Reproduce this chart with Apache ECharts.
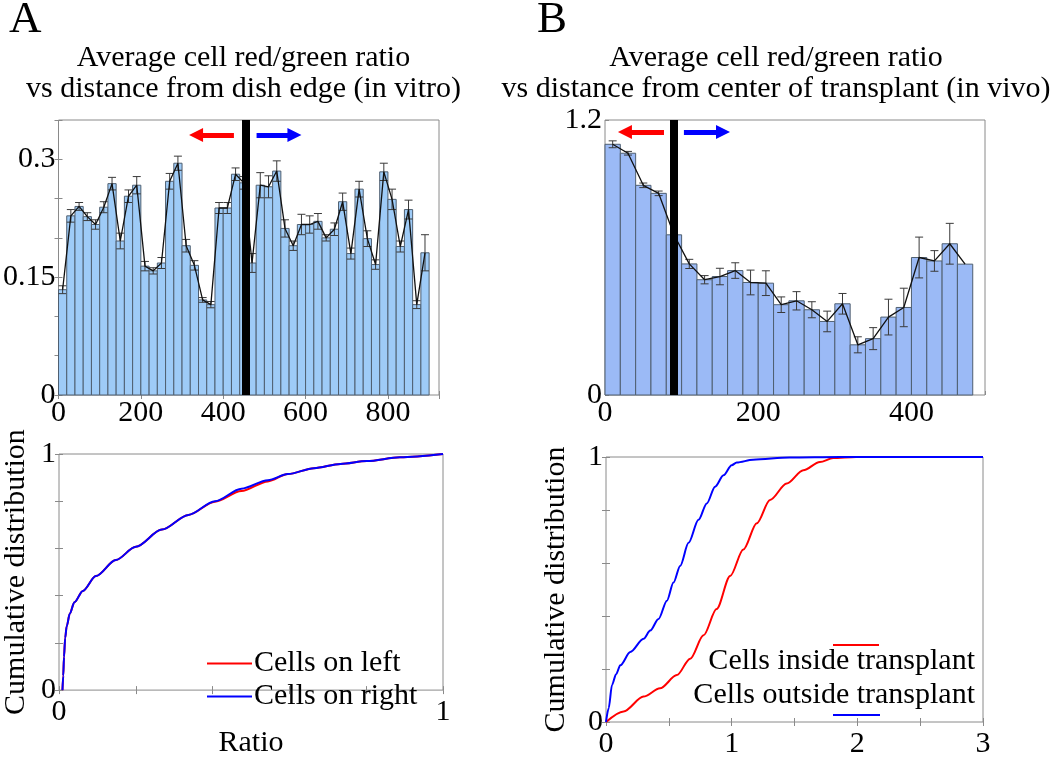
<!DOCTYPE html>
<html><head><meta charset="utf-8">
<script src="https://cdn.jsdelivr.net/npm/echarts@6/dist/echarts.min.js"></script>
<style>html,body{margin:0;padding:0;background:#fff}#c{width:1050px;height:759px}</style>
</head><body><div id="c"></div>
<script>
// ---------- Panel A (top): in vitro, ratio vs distance from dish edge ----------
const aBinCenters = [10,30,50,70,90,110,130,150,170,190,210,230,250,270,290,310,330,350,370,390,410,430,450,470,490,510,530,550,570,590,610,630,650,670,690,710,730,750,770,790,810,830,850,870,890];
const aMeans = [0.134,0.228,0.240,0.227,0.217,0.239,0.269,0.196,0.253,0.267,0.164,0.158,0.168,0.272,0.295,0.190,0.165,0.121,0.115,0.238,0.238,0.281,0.270,0.168,0.267,0.265,0.285,0.212,0.190,0.217,0.217,0.221,0.200,0.211,0.246,0.180,0.262,0.199,0.166,0.284,0.249,0.189,0.236,0.115,0.181];
const aErrors = [0.005,0.008,0.005,0.005,0.006,0.007,0.008,0.010,0.008,0.011,0.006,0.004,0.007,0.010,0.009,0.008,0.006,0.003,0.004,0.007,0.007,0.008,0.008,0.012,0.016,0.014,0.013,0.011,0.006,0.013,0.011,0.010,0.004,0.008,0.011,0.007,0.010,0.010,0.006,0.011,0.013,0.007,0.012,0.005,0.023];
const aBinWidth = 20;
const aBoundary = 455;
const aXMax = 924, aYMax = 0.35;
const aXLabels = [0,200,400,600,800];
const aYLabels = [0,0.15,0.3];

// ---------- Panel B (top): in vivo, ratio vs distance from transplant center ----------
const bBinCenters = [10,30,50,70,90,110,130,150,170,190,210,230,250,270,290,310,330,350,370,390,410,430,450,470];
const bMeans = [1.094,1.055,0.915,0.880,0.699,0.572,0.503,0.517,0.543,0.491,0.488,0.394,0.411,0.372,0.321,0.398,0.219,0.246,0.340,0.382,0.600,0.585,0.660,0.571];
const bErrors = [0.015,0.008,0.010,0.010,0,0.020,0.018,0.036,0.034,0.054,0.054,0.034,0.040,0.035,0.045,0.045,0.035,0.048,0.078,0.084,0.089,0.045,0.089,0];
const bBinWidth = 20;
const bBoundary = 90;
const bXMax = 496, bYMax = 1.2;
const bXLabels = [0,200,400];
const bYLabels = [0,1.2];

// ---------- Panel A (bottom): cumulative distributions ----------
const aLeftX  = [0.009,0.011,0.013,0.016,0.02,0.028,0.04,0.062,0.096,0.148,0.2,0.268,0.337,0.406,0.475,0.544,0.596,0.664,0.733,0.802,0.888,1.0];
const aLeftY  = [0,0.06,0.14,0.22,0.27,0.323,0.372,0.42,0.483,0.551,0.607,0.68,0.742,0.798,0.843,0.884,0.915,0.94,0.958,0.97,0.986,1.0];
const aRightX = [0.009,0.011,0.013,0.016,0.02,0.028,0.04,0.062,0.096,0.148,0.2,0.268,0.337,0.406,0.475,0.544,0.596,0.664,0.733,0.802,0.888,1.0];
const aRightY = [0,0.06,0.14,0.22,0.27,0.323,0.372,0.42,0.483,0.551,0.607,0.68,0.742,0.8,0.853,0.889,0.915,0.94,0.958,0.97,0.986,1.0];

// ---------- Panel B (bottom): cumulative distributions ----------
const bInsideX  = [0,0.14,0.299,0.43,0.564,0.67,0.776,0.88,0.988,1.093,1.2,1.305,1.438,1.57,1.702,1.808,1.99,3.0];
const bInsideY  = [0,0.04,0.096,0.127,0.177,0.239,0.327,0.426,0.551,0.651,0.75,0.838,0.9,0.95,0.981,0.996,1.0,1.0];
const bOutsideX = [0,0.021,0.048,0.08,0.114,0.193,0.299,0.352,0.418,0.485,0.537,0.59,0.657,0.736,0.802,0.868,0.935,1.0,1.04,1.17,1.46,1.86,3.0];
const bOutsideY = [0,0.052,0.14,0.18,0.214,0.264,0.314,0.345,0.389,0.458,0.526,0.589,0.676,0.763,0.825,0.888,0.931,0.969,0.979,0.99,0.998,1.0,1.0];

// ---------- styling ----------
const FONT = '"Liberation Serif", "Times New Roman", Tinos, "DejaVu Serif", serif';
const FS = 30;
const AXIS_GRAY = '#8a8a8a';
const zip = (xs, ys) => xs.map((x, i) => [x, ys[i]]);
const zip3 = (xs, ys, es) => xs.map((x, i) => [x, ys[i], es[i]]);
const only = list => v => list.some(t => Math.abs(t - v) < 1e-6) ? String(+(+v).toFixed(6)) : '';
const font = size => size + 'px ' + FONT;

function histRender(binWidth, fill) {
  return function (params, api) {
    const x = api.value(0), v = api.value(1), e = api.value(2);
    const tl = api.coord([x - binWidth / 2, v]);
    const br = api.coord([x + binWidth / 2, 0]);
    const children = [{
      type: 'rect',
      shape: { x: tl[0], y: tl[1], width: br[0] - tl[0], height: br[1] - tl[1] },
      style: { fill: fill, stroke: '#4f5f70', lineWidth: 1 }
    }];
    if (e > 0) {
      const hi = api.coord([x, v + e]), lo = api.coord([x, v - e]);
      const c = 4;
      const st = { stroke: '#3a3a3a', lineWidth: 1 };
      children.push({ type: 'line', shape: { x1: hi[0], y1: hi[1], x2: lo[0], y2: lo[1] }, style: st });
      children.push({ type: 'line', shape: { x1: hi[0] - c, y1: hi[1], x2: hi[0] + c, y2: hi[1] }, style: st });
      children.push({ type: 'line', shape: { x1: lo[0] - c, y1: lo[1], x2: lo[0] + c, y2: lo[1] }, style: st });
    }
    return { type: 'group', children: children };
  };
}

const labelStyle = { color: '#000', fontFamily: FONT, fontSize: FS };
function mainX(gi, min, max, interval, labels, margin, extra) {
  return Object.assign({
    type: 'value', gridIndex: gi, position: 'bottom', min: min, max: max, interval: interval,
    axisLine: { show: false }, splitLine: { show: false },
    axisTick: { show: true, inside: true, length: 4, lineStyle: { color: AXIS_GRAY } },
    axisLabel: Object.assign({ margin: margin, formatter: only(labels), showMaxLabel: true, hideOverlap: false }, labelStyle)
  }, extra || {});
}
function mainY(gi, min, max, interval, labels, extra) {
  return Object.assign({
    type: 'value', gridIndex: gi, position: 'left', min: min, max: max, interval: interval,
    axisLine: { show: false }, splitLine: { show: false },
    axisTick: { show: true, inside: true, length: 4, lineStyle: { color: AXIS_GRAY } },
    axisLabel: Object.assign({ margin: 3, formatter: only(labels), hideOverlap: false }, labelStyle)
  }, extra || {});
}
function mirror(gi, pos, min, max, interval) {
  return {
    type: 'value', gridIndex: gi, position: pos, min: min, max: max, interval: interval,
    axisLine: { show: false }, splitLine: { show: false },
    axisTick: { show: true, inside: true, length: 4, lineStyle: { color: AXIS_GRAY } },
    axisLabel: { show: false }
  };
}

// annotation arrows (data coordinates)
const arrowA = { y: 0.331, red: [426, 334], blue: [481, 573] };
const arrowB = { y: 1.148, red: [77, 26], blue: [103, 154] };
function markLines(boundary, yMax, arr) {
  return {
    silent: true, animation: false, label: { show: false },
    symbol: 'none',
    data: [
      [{ coord: [boundary, 0], lineStyle: { color: '#000', width: 8, type: 'solid' }, symbol: 'none' },
       { coord: [boundary, yMax], symbol: 'none' }],
      [{ coord: [arr.red[0], arr.y], lineStyle: { color: '#ff0000', width: 5, type: 'solid' }, symbol: 'none' },
       { coord: [arr.red[1], arr.y], symbol: 'triangle', symbolSize: 14 }],
      [{ coord: [arr.blue[0], arr.y], lineStyle: { color: '#0000ff', width: 5, type: 'solid' }, symbol: 'none' },
       { coord: [arr.blue[1], arr.y], symbol: 'triangle', symbolSize: 14 }]
    ]
  };
}

const chart = echarts.init(document.getElementById('c'), null, { renderer: 'canvas' });
const gridBase = { show: true, borderColor: AXIS_GRAY, borderWidth: 1, backgroundColor: 'transparent', containLabel: false };
const txt = (text, x, y, size, align) => ({ type: 'text', silent: true, style: {
  text: text, x: x, y: y, font: font(size), fill: '#000',
  align: align, verticalAlign: 'middle', textAlign: align, textVerticalAlign: 'middle' } });

chart.setOption({
  animation: false,
  backgroundColor: '#fff',
  textStyle: { fontFamily: FONT },
  grid: [
    Object.assign({ left: 56, top: 120, width: 383, height: 275 }, gridBase),
    Object.assign({ left: 605, top: 120, width: 380, height: 275 }, gridBase),
    Object.assign({ left: 56, top: 454, width: 387, height: 270 }, gridBase),
    Object.assign({ left: 606, top: 457, width: 377, height: 267 }, gridBase)
  ],
  xAxis: [
    mainX(0, 0, aXMax, 200, aXLabels, 3),
    mirror(0, 'top', 0, aXMax, 200),
    mainX(1, 0, bXMax, 200, bXLabels, 3),
    mainX(2, 0, 1, 0.2, [0, 1], 7, { name: 'Ratio', nameLocation: 'middle', nameGap: 7, nameTextStyle: labelStyle }),
    mirror(2, 'top', 0, 1, 0.2),
    mainX(3, 0, 3, 0.5, [0, 1, 2, 3], 7),
    mirror(3, 'top', 0, 3, 0.5)
  ],
  yAxis: [
    mainY(0, 0, aYMax, 0.05, aYLabels),
    mirror(0, 'right', 0, aYMax, 0.05),
    mainY(1, 0, bYMax, 0.2, bYLabels),
    mainY(2, 0, 1, 0.2, [0, 1], { name: 'Cumulative distribution', nameLocation: 'middle', nameRotate: 90, nameGap: 28, nameTextStyle: labelStyle }),
    mirror(2, 'right', 0, 1, 0.2),
    mainY(3, 0, 1, 0.2, [0, 1], { name: 'Cumulative distribution', nameLocation: 'middle', nameRotate: 90, nameGap: 35, nameTextStyle: labelStyle }),
    mirror(3, 'right', 0, 1, 0.2)
  ],
  legend: [{
    data: ['Cells on left', 'Cells on right'],
    left: 207, top: 647, orient: 'vertical', padding: 0, itemGap: 0,
    icon: 'rect', itemWidth: 45, itemHeight: 2,
    textStyle: { color: '#000', fontFamily: FONT, fontSize: FS, lineHeight: 33, padding: [0, 0, 0, -3] }
  }],
  series: [
    { type: 'custom', name: 'binsA', xAxisIndex: 0, yAxisIndex: 0, renderItem: histRender(aBinWidth, '#9ecbf7'),
      encode: { x: 0, y: 1 }, data: zip3(aBinCenters, aMeans, aErrors), z: 2 },
    { type: 'line', name: 'meanA', xAxisIndex: 0, yAxisIndex: 0, data: zip(aBinCenters, aMeans),
      symbol: 'none', lineStyle: { color: '#111', width: 1.3 }, z: 3,
      markLine: markLines(aBoundary, aYMax, arrowA) },
    { type: 'custom', name: 'binsB', xAxisIndex: 2, yAxisIndex: 2, renderItem: histRender(bBinWidth, '#9bbaf6'),
      encode: { x: 0, y: 1 }, data: zip3(bBinCenters, bMeans, bErrors), z: 2 },
    { type: 'line', name: 'meanB', xAxisIndex: 2, yAxisIndex: 2, data: zip(bBinCenters, bMeans),
      symbol: 'none', lineStyle: { color: '#111', width: 1.3 }, z: 3,
      markLine: markLines(bBoundary, bYMax, arrowB) },
    { type: 'line', name: 'Cells on left', xAxisIndex: 3, yAxisIndex: 3, data: zip(aLeftX, aLeftY),
      symbol: 'none', smooth: 0.3, smoothMonotone: 'x', color: '#ff0000', lineStyle: { color: '#ff0000', width: 2 }, z: 3 },
    { type: 'line', name: 'Cells on right', xAxisIndex: 3, yAxisIndex: 3, data: zip(aRightX, aRightY),
      symbol: 'none', smooth: 0.3, smoothMonotone: 'x', color: '#0000ff', lineStyle: { color: '#0000ff', width: 2 }, z: 4 },
    { type: 'line', name: 'Cells inside transplant', xAxisIndex: 5, yAxisIndex: 5, data: zip(bInsideX, bInsideY),
      symbol: 'none', smooth: 0.3, smoothMonotone: 'x', color: '#ff0000', lineStyle: { color: '#ff0000', width: 2 }, z: 3 },
    { type: 'line', name: 'Cells outside transplant', xAxisIndex: 5, yAxisIndex: 5, data: zip(bOutsideX, bOutsideY),
      symbol: 'none', smooth: 0.3, smoothMonotone: 'x', color: '#0000ff', lineStyle: { color: '#0000ff', width: 2 }, z: 4 }
  ],
  graphic: [
    txt('A', 9, 20, 45, 'left'),
    txt('B', 537, 20, 45, 'left'),
    txt('Average cell red/green ratio', 243.5, 58, FS, 'center'),
    txt('vs distance from dish edge (in vitro)', 243.5, 89, FS, 'center'),
    txt('Average cell red/green ratio', 776, 58, FS, 'center'),
    txt('vs distance from center of transplant (in vivo)', 776, 89, FS, 'center'),
    // legend of panel B (bottom)
    { type: 'line', silent: true, shape: { x1: 833, y1: 645, x2: 879, y2: 645 }, style: { stroke: '#ff0000', lineWidth: 2 } },
    txt('Cells inside transplant', 975, 661, FS, 'right'),
    txt('Cells outside transplant', 975, 695, FS, 'right'),
    { type: 'line', silent: true, shape: { x1: 833, y1: 715, x2: 880, y2: 715 }, style: { stroke: '#0000ff', lineWidth: 2 } }
  ]
});
</script>
</body></html>
